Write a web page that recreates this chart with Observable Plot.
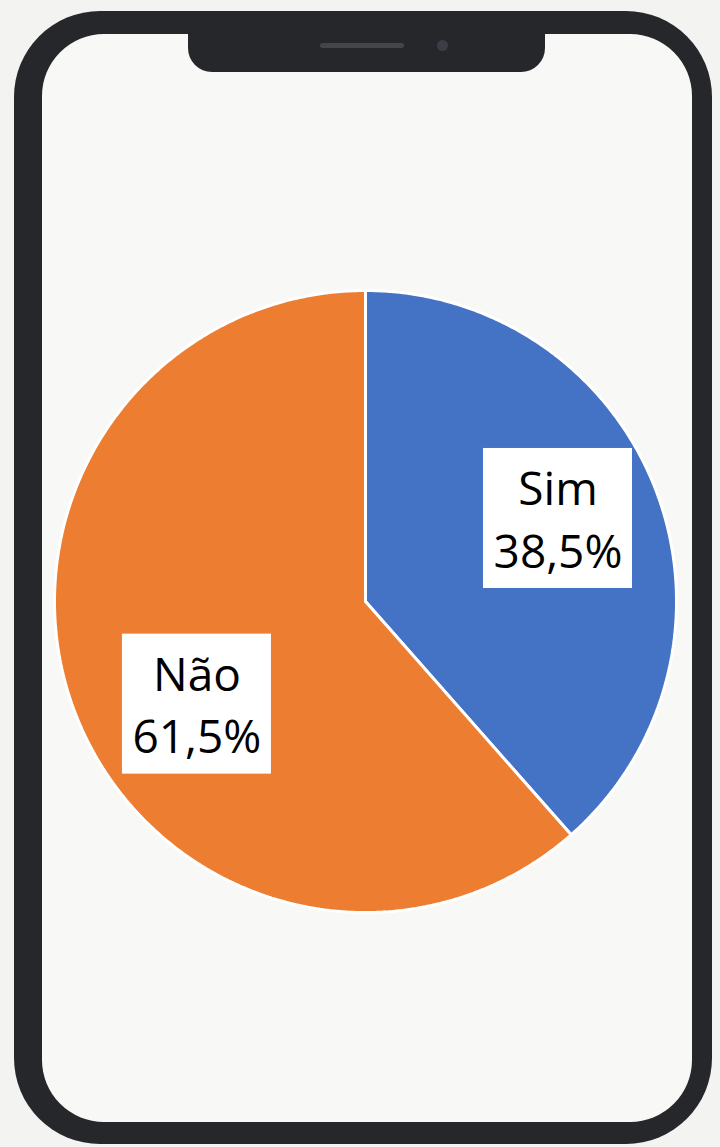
<!DOCTYPE html>
<html>
<head>
<meta charset="utf-8">
<script src="https://cdn.jsdelivr.net/npm/d3@7"></script>
<script src="https://cdn.jsdelivr.net/npm/@observablehq/plot@0.6"></script>
<style>
  html, body { margin: 0; padding: 0; background: #f3f3f2; }
  #wrap { position: relative; width: 720px; height: 1147px; overflow: hidden; }
  .frame { position: absolute; left: 14px; top: 11px; width: 698px; height: 1133px; border-radius: 86px; background: #26272b; }
  .screen { position: absolute; left: 42px; top: 34px; width: 650px; height: 1088px; border-radius: 62px; background: #f8f8f6; }
  .notch { position: absolute; left: 188px; top: 28px; width: 357px; height: 44px; border-radius: 0 0 24px 24px; background: #26272b; }
  .speaker { position: absolute; left: 320px; top: 43px; width: 84px; height: 5px; border-radius: 3px; background: #44454b; }
  .camera { position: absolute; left: 437px; top: 40px; width: 11px; height: 11px; border-radius: 50%; background: #3c3d45; }
  #chart { position: absolute; left: 0; top: 0; }
</style>
</head>
<body>
<div id="wrap">
  <div class="frame"></div>
  <div class="screen"></div>
  <div class="notch"></div>
  <div class="speaker"></div>
  <div class="camera"></div>
  <div id="chart"></div>
</div>
<script>
// Data
const categories = ["Sim", "Não"];
const percents = [38.5, 61.5];
const colors = ["#4472C4", "#ED7D31"];
// label box centres, in units of the pie radius (x right, y up)
const labelX = [0.619, -0.542];
const labelY = [0.267, -0.330];

// slice polygons on the unit circle, angle clockwise from 12 o'clock
const arcs = d3.pie().sort(null).value(d => d)(percents);
const slicePts = [];
arcs.forEach((a, i) => {
  const n = Math.max(2, Math.ceil((a.endAngle - a.startAngle) / 0.01));
  slicePts.push({cat: categories[i], x: 0, y: 0});
  for (let k = 0; k <= n; k++) {
    const t = a.startAngle + (a.endAngle - a.startAngle) * k / n;
    slicePts.push({cat: categories[i], x: Math.sin(t), y: Math.cos(t)});
  }
  slicePts.push({cat: categories[i], x: 0, y: 0});
});

const R = 311; // pixel radius
const boxHalfW = 74.5 / R, boxHalfH = 70 / R;
const labels = categories.map((c, i) => ({
  cat: c,
  x: labelX[i], y: labelY[i],
  text: c + "\n" + percents[i].toFixed(1).replace(".", ",") + "%"
}));

const plot = Plot.plot({
  width: 720,
  height: 1147,
  marginLeft: 54,
  marginRight: 44,
  marginTop: 290,
  marginBottom: 235,
  style: {background: "transparent", overflow: "visible"},
  x: {domain: [-1, 1], axis: null},
  y: {domain: [-1, 1], axis: null},
  color: {domain: categories, range: colors},
  marks: [
    Plot.line(slicePts, {x: "x", y: "y", z: "cat", fill: "cat", stroke: "white", strokeWidth: 3, strokeLinejoin: "miter"}),
    Plot.rect(labels, {x1: d => d.x - boxHalfW, x2: d => d.x + boxHalfW, y1: d => d.y - boxHalfH, y2: d => d.y + boxHalfH, fill: "white"}),
    Plot.text(labels, {x: "x", y: "y", text: "text", fill: "black", fontSize: 46, lineHeight: 1.36, fontFamily: "Open Sans", textAnchor: "middle", lineAnchor: "middle", dy: -2})
  ]
});
document.getElementById("chart").appendChild(plot);
</script>
</body>
</html>
